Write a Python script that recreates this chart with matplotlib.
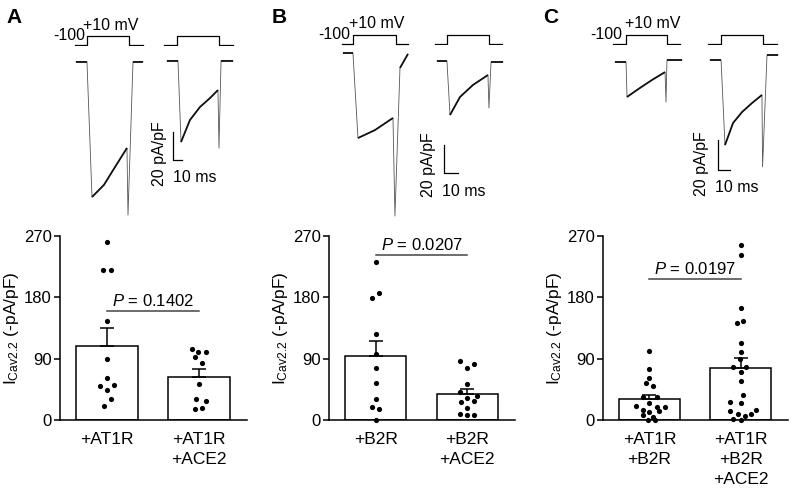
import matplotlib.pyplot as plt
import numpy as np

plt.rcParams['font.family'] = ['Liberation Sans', 'DejaVu Sans']
plt.rcParams['mathtext.fontset'] = 'custom'
plt.rcParams['mathtext.rm'] = 'Liberation Sans'
plt.rcParams['mathtext.it'] = 'Liberation Sans:italic'

W, H = 791, 490

# ---- bar chart data (pA/pF) ----
labels_a = ['+AT1R', '+AT1R\n+ACE2']
labels_b = ['+B2R', '+B2R\n+ACE2']
labels_c = ['+AT1R\n+B2R', '+AT1R\n+B2R\n+ACE2']

mean_a = [108.6, 62.6]
sem_a = [26.0, 11.8]
mean_b = [94.4, 38.6]
sem_b = [21.6, 7.4]
mean_c = [30.8, 76.8]
sem_c = [5.9, 14.7]

pts_a1 = [261.8, 220.3, 220.3, 145.4, 89.6, 61.2, 50.4, 51.4, 44.1, 30.4, 21.0]
jit_a1 = [0, -0.045, 0.045, 0, 0, 0, -0.075, 0.08, 0, 0.04, -0.035]
pts_a2 = [103.8, 99.9, 99.9, 92.0, 84.2, 52.9, 30.8, 28.4, 15.7, 18.1]
jit_a2 = [-0.08, -0.007, 0.08, -0.043, 0.036, 0, -0.036, 0.08, -0.043, 0.036]

pts_b1 = [231.5, 187.0, 179.6, 126.3, 96.4, 76.8, 54.3, 30.4, 18.6, 16.2, 0]
jit_b1 = [0, 0.036, -0.043, 0, 0, 0, 0, 0, -0.043, 0.04, 0]
pts_b2 = [86.6, 81.8, 75.9, 52.4, 41.6, 35.7, 31.8, 27.9, 26.9, 18.1, 8.3, 7.3, 7.3]
jit_b2 = [-0.076, 0.076, 0, 0, -0.076, 0.11, 0, 0.076, -0.065, 0, -0.076, 0, 0.076]

pts_c1 = [101.3, 74.9, 62.2, 53.9, 50.4, 33.3, 33.3, 24.5, 20.0, 19.6, 19.6,
          14.7, 12.7, 11.7, 6.8, 4.9, 0.5, 0.5]
jit_c1 = [0, 0, 0, -0.036, 0.04, -0.07, 0.087, 0, -0.15, 0.087, 0.17,
          -0.07, 0.1, 0.0, -0.07, 0.04, -0.015, 0.06]
pts_c2 = [257, 242.7, 164, 145.4, 142, 113.5, 99.8, 89, 77.4, 77.4, 71, 56.8,
          36.7, 26.9, 24.5, 14.7, 13.7, 9.3, 8.4, 6.3, 1.5, 0]
jit_c2 = [0, 0, 0, 0.03, -0.045, 0, 0, -0.01, -0.08, 0.056, 0, 0, 0.03, -0.12,
          0, 0.17, -0.12, 0.11, -0.03, 0.045, -0.08, 0]

p_text = ['0.1402', '0.0207', '0.0197']
p_level = [160.5, 242.3, 207.0]

# ---- example traces: time (ms), current (pA/pF) ----
step_v = [-100, -100, 10, 10, -100, -100]

a_left_t = [0, 11.8, 17.2, 30, 42, 54.8, 55.9, 61.3, 72.0]
a_left_i = [0, 0, -97.7, -89, -76, -62.3, -110.7, 0, 0]
a_right_t = [0, 11.8, 15.1, 24.7, 35.5, 46.2, 54.8, 55.9, 58.1, 71.0]
a_right_i = [0, 0, -58.7, -42.8, -33.4, -27.0, -21.2, -63.1, 0, 0]
a_step_left = [0, 12.9, 12.9, 58.1, 58.1, 73.1]
a_step_right = [0, 14.0, 14.0, 59.1, 59.1, 74.2]

b_left_t = [0, 7.1, 10.7, 22.9, 35.7, 37.1, 40.7, 46.4]
b_left_i = [0, 0, -61.4, -55.6, -46.9, -117.7, -10.8, -0.7]
b_right_t = [0, 7.1, 9.3, 16.4, 25.7, 36.4, 37.1, 38.6, 47.1]
b_right_i = [0, 0, -39.0, -26.0, -17.3, -10.1, -33.9, -0.7, -0.7]
b_step_left = [0, 7.9, 7.9, 38.6, 38.6, 47.1]
b_step_right = [0, 8.6, 8.6, 38.6, 38.6, 47.9]

c_left_t = [0, 9.2, 10, 20.8, 30.8, 41.7, 42.5, 43.3, 55.8]
c_left_i = [0, 0, -23.3, -17.3, -12, -6.7, -26.7, 1.3, 1.3]
c_right_t = [0, 9.2, 12.5, 19.2, 26.7, 35, 43.3, 43.8, 47.5, 56.7]
c_right_i = [0, 0, -56.7, -42, -34.7, -28.7, -23.3, -71.3, 3.3, 3.3]
c_step_left = [0, 10.8, 10.8, 45, 45, 55.8]
c_step_right = [0, 10.8, 10.8, 45.8, 45.8, 57.5]

fig = plt.figure(figsize=(W / 100, H / 100), dpi=100)


def px_axes(x0, y0, x1, y1):
    ax = fig.add_axes([x0 / W, 1 - y1 / H, (x1 - x0) / W, (y1 - y0) / H])
    return ax


def trace_axes(ox, oy, sx, sy, xlim, ylim):
    ax = px_axes(ox + xlim[0] * sx, oy - ylim[1] * sy, ox + xlim[1] * sx, oy - ylim[0] * sy)
    ax.set_xlim(xlim)
    ax.set_ylim(ylim)
    ax.axis('off')
    return ax


def draw_current(ox, oy, sx, sy, t, i, noisy):
    ax = trace_axes(ox, oy, sx, sy, (-2, 80), (-125, 12))
    ax.plot(t, i, color='#555555', lw=0.6)
    for a, b in noisy:
        ax.plot(t[a:b + 1], i[a:b + 1], color='#111111', lw=1.3, solid_capstyle='butt')
    return ax


def draw_step(ox, oy, sx, t):
    ax = trace_axes(ox, oy, sx, 0.0845, (-2, 80), (-115, 25))
    ax.plot(t, step_v, color='black', lw=0.9)


def scale_bar(ax, t0, i0):
    ax.plot([t0, t0, t0 + 10], [i0 + 20, i0, i0], color='black', lw=0.9)


# panel A traces
draw_step(75, 36.55, 0.93, a_step_left)
draw_step(164, 36.55, 0.93, a_step_right)
draw_current(76, 61.7, 0.93, 1.385, a_left_t, a_left_i, [(0, 1), (2, 5), (7, 8)])
ax = draw_current(167, 60.7, 0.93, 1.385, a_right_t, a_right_i, [(0, 1), (2, 6), (8, 9)])
scale_bar(ax, 6.5, -71.7)

# panel B traces
draw_step(342, 35.85, 1.4, b_step_left)
draw_step(435, 35.55, 1.4, b_step_right)
draw_current(343, 53, 1.4, 1.385, b_left_t, b_left_i, [(0, 1), (2, 4), (6, 7)])
ax = draw_current(437, 61, 1.4, 1.385, b_right_t, b_right_i, [(0, 1), (2, 5), (7, 8)])
scale_bar(ax, 5.0, -80.9)

# panel C traces
draw_step(613, 35.55, 1.2, c_step_left)
draw_step(708, 35.55, 1.2, c_step_right)
draw_current(615, 62, 1.2, 1.5, c_left_t, c_left_i, [(0, 1), (2, 5), (7, 8)])
ax = draw_current(710, 60, 1.2, 1.5, c_right_t, c_right_i, [(0, 1), (2, 6), (8, 9)])
scale_bar(ax, 6.7, -73.3)

# ---- bar charts ----
def bar_panel(x0, x1, labels, means, sems, pts, jits, ptxt, plev):
    ax = px_axes(x0, 236, x1, 420)
    xs = [0, 1]
    ax.bar(xs, means, width=0.67, color='white', edgecolor='black', lw=1.1, zorder=2)
    ax.errorbar(xs, means, yerr=[[0, 0], sems], fmt='none', ecolor='black',
                elinewidth=1.1, capsize=5, capthick=1.1, zorder=2)
    for k in range(2):
        ax.scatter(np.array(jits[k]) + xs[k], pts[k], s=14, color='black',
                   zorder=3, clip_on=False, linewidths=0)
    ax.plot([0, 1], [plev, plev], color='#444444', lw=1.1)
    ax.text(0.5, plev + 3, '$P$ = ' + ptxt, ha='center', va='bottom', fontsize=12)
    ax.set_xlim(-0.51, 1.52)
    ax.set_ylim(0, 270)
    ax.set_yticks([0, 90, 180, 270])
    ax.set_xticks(xs, labels, fontsize=12.5)
    for lab in ax.get_xticklabels():
        lab.set_linespacing(1.4)
    ax.tick_params(axis='x', length=0, pad=9)
    ax.tick_params(axis='y', length=4, width=1.1, labelsize=12, pad=2)
    for s in ['top', 'right']:
        ax.spines[s].set_visible(False)
    for s in ['left', 'bottom']:
        ax.spines[s].set_linewidth(1.1)
    ax.set_ylabel(r'I$_{\mathrm{Cav2.2}}$ (-pA/pF)', fontsize=12.5, labelpad=2)
    return ax


bar_panel(60, 247, labels_a, mean_a, sem_a, [pts_a1, pts_a2], [jit_a1, jit_a2], p_text[0], p_level[0])
bar_panel(329, 515, labels_b, mean_b, sem_b, [pts_b1, pts_b2], [jit_b1, jit_b2], p_text[1], p_level[1])
bar_panel(603, 788, labels_c, mean_c, sem_c, [pts_c1, pts_c2], [jit_c1, jit_c2], p_text[2], p_level[2])

# ---- text overlay ----
ov = fig.add_axes([0, 0, 1, 1])
ov.set_xlim(0, W)
ov.set_ylim(H, 0)
ov.axis('off')
ov.patch.set_visible(False)

for letter, x in [('A', 6), ('B', 272), ('C', 543)]:
    ov.text(x, 23, letter, fontsize=15, fontweight='bold', va='baseline', ha='left')

for xr, xl, yb1, yb2 in [(85, 83, 39.5, 29.5), (350, 349, 39.3, 28), (622, 625, 39.3, 28)]:
    ov.text(xr, yb1, '-100', fontsize=11.5, ha='right', va='baseline')
    ov.text(xl, yb2, '+10 mV', fontsize=11.5, ha='left', va='baseline')

for xc, yc, xl, yl in [(159.5, 153.5, 173, 177), (428, 165, 442, 191), (701.5, 163.5, 715, 187.5)]:
    ov.text(xc, yc, '20 pA/pF', fontsize=11.5, rotation=90, ha='center', va='center')
    ov.text(xl, yl, '10 ms', fontsize=11.5, ha='left', va='center')

fig.savefig('out.png', dpi=100)
